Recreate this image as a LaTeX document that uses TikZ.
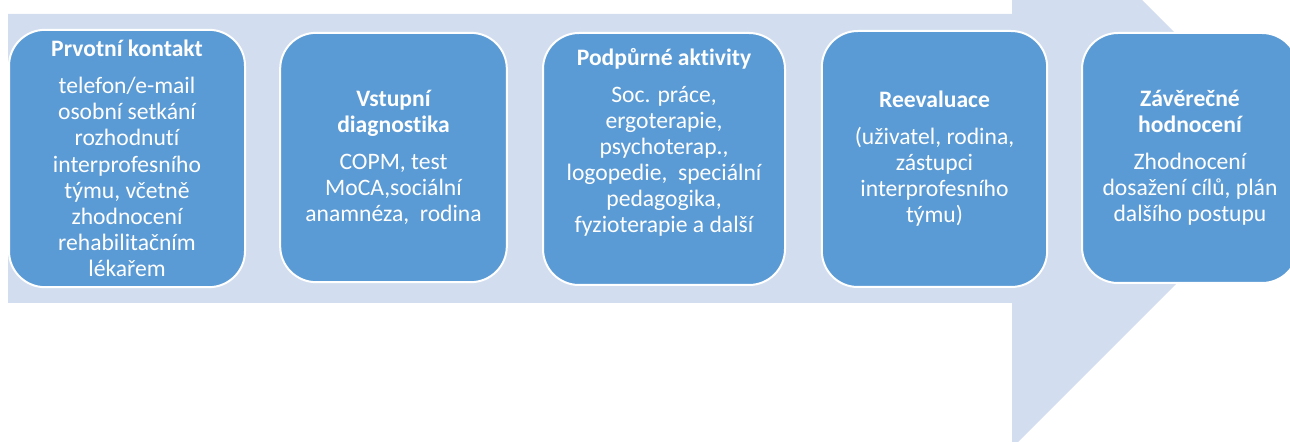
\documentclass[tikz,border=0pt]{standalone}
\usepackage{fontspec}
\setmainfont[Ligatures={NoCommon,NoContextual},Contextuals=NoAlternate]{Carlito}
\definecolor{stageblue}{HTML}{5B9BD5}
\definecolor{arrowblue}{HTML}{D2DEEF}
\tikzset{
  stage/.style={draw=white, line width=1.5pt, fill=stageblue, rounded corners=27pt,
    text=white, align=center, inner sep=0pt, font=\fontsize{17.7}{19.6}\selectfont},
}
\begin{document}
\begin{tikzpicture}[x=0.75pt,y=-0.75pt]
			\useasboundingbox (0,0) rectangle (1290,442);

			% Šipka
			\fill[arrowblue] (8,14) -- (1012,14) -- (1012,-130) -- (1301,159)
				-- (1012,448) -- (1012,303) -- (8,303) -- cycle;

			% Fáze
			\node[stage, minimum width=177pt, minimum height=193pt] (kontakt) at (127,158.5)
				{{\bfseries Prvotní kontakt}\\[8pt]telefon/e-mail\\osobní setkání\\rozhodnutí\\interprofesního\\týmu, včetně\\zhodnocení\\rehabilitačním\\lékařem};
			\node[stage, minimum width=170pt, minimum height=187pt] (diagnostika) at (393.5,157.5)
				{{\bfseries Vstupní}\\{\bfseries diagnostika}\\[8pt]COPM, test\\MoCA,sociální\\anamnéza,\ \ rodina};
			\node[stage, minimum width=181.5pt, minimum height=189pt] (aktivity) at (664,159)
				{{\bfseries Podpůrné aktivity}\\[8pt]Soc. práce,\\ergoterapie,\\psychoterap.,\\logopedie,\ \ speciální\\pedagogika,\\fyzioterapie a další\\[8pt]\mbox{}};
			\node[stage, minimum width=169pt, minimum height=192pt] (reevaluace) at (934.5,159)
				{{\bfseries Reevaluace}\\[8pt](uživatel, rodina,\\zástupci\\interprofesního\\týmu)};
			\node[stage, minimum width=162pt, minimum height=187.5pt] (hodnoceni) at (1190,158)
				{{\bfseries Závěrečné}\\{\bfseries hodnocení}\\[8pt]Zhodnocení\\dosažení cílů, plán\\dalšího postupu};

		\end{tikzpicture}
\end{document}
